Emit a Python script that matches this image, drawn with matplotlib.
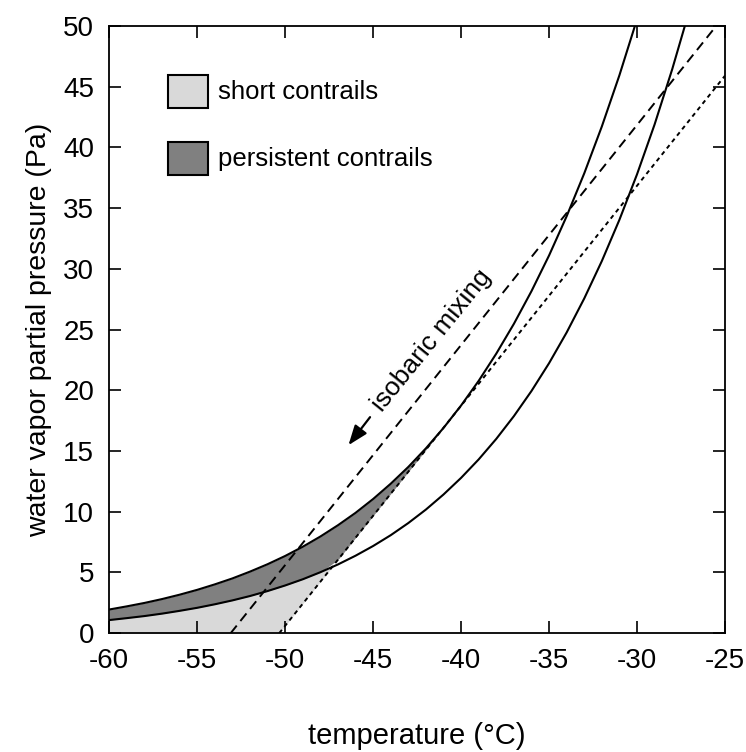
import matplotlib
matplotlib.use('Agg')
import matplotlib.pyplot as plt
from matplotlib.patches import Rectangle
import numpy as np

plt.rcParams['font.family'] = ['Liberation Sans', 'DejaVu Sans']
plt.rcParams['axes.unicode_minus'] = False

# saturation vapour pressure (Pa), 1 degC steps
temps = [-60, -59, -58, -57, -56, -55, -54, -53, -52, -51,
         -50, -49, -48, -47, -46, -45, -44, -43, -42, -41,
         -40, -39, -38, -37, -36, -35, -34, -33, -32, -31,
         -30, -29, -28, -27, -26]
e_water = [1.95, 2.21, 2.49, 2.81, 3.17, 3.57, 4.02, 4.51, 5.07, 5.68,
           6.36, 7.12, 7.96, 8.89, 9.91, 11.05, 12.31, 13.69, 15.22, 16.90,
           18.75, 20.78, 23.02, 25.47, 28.16, 31.10, 34.33, 37.86, 41.72, 45.94,
           50.55, 55.57, 61.04, 67.00, 73.47]
e_ice = [1.08, 1.24, 1.41, 1.61, 1.84, 2.09, 2.38, 2.70, 3.06, 3.47,
         3.93, 4.44, 5.02, 5.66, 6.38, 7.18, 8.07, 9.07, 10.18, 11.42,
         12.79, 14.31, 16.00, 17.87, 19.94, 22.23, 24.76, 27.56, 30.64, 34.04,
         37.78, 41.89, 46.43, 51.39, 56.84]

# isobaric mixing line (dashed) and threshold mixing line (dotted)
mix_t = [-53.1, -25.0]
mix_e = [0.0, 50.9]
crit_t = [-50.34, -25.0]
crit_e = [0.0, 45.9]

light = '#d9d9d9'
dark = '#808080'

fig = plt.figure(figsize=(7.46, 7.52), dpi=100)
ax = fig.add_axes([0.1465, 0.158, 0.8253, 0.8075])

# fill regions built from the curves above (left of the threshold line)
x = np.union1d(temps, crit_t[:1])
ice = np.interp(x, temps, e_ice)
water = np.interp(x, temps, e_water)
crit_raw = np.interp(x, crit_t, crit_e, left=-1)
crit = np.clip(crit_raw, 0, None)

short = (ice >= crit) & (x <= -45)
ax.fill_between(x, crit, ice, where=short, interpolate=True,
                color=light, lw=0, zorder=1)
lower = np.maximum(ice, crit_raw)
persist = (water >= lower) & (x <= -41)
ax.fill_between(x, lower, water, where=persist, interpolate=True,
                color=dark, lw=0, zorder=1)

ax.plot(temps, e_water, color='black', lw=1.5, zorder=3)
ax.plot(temps, e_ice, color='black', lw=1.5, zorder=3)
ax.plot(mix_t, mix_e, color='black', lw=1.4, dashes=(5, 3), zorder=4)
ax.plot(crit_t, crit_e, color='black', lw=1.4, dashes=(2.2, 2.0), zorder=4)

# annotation
ax.text(-41.67, 24.1, 'isobaric mixing', rotation=51, fontsize=19,
        ha='center', va='center', rotation_mode='anchor')
ax.annotate('', xy=(-46.5, 15.3), xytext=(-45.08, 17.97),
            arrowprops=dict(arrowstyle='-|>,head_length=1.2,head_width=0.45',
                            color='black', lw=1.6))

# legend boxes
for yb, col, lab in [(0.865, light, 'short contrails'),
                     (0.7545, dark, 'persistent contrails')]:
    ax.add_patch(Rectangle((0.0958, yb), 0.065, 0.054, transform=ax.transAxes,
                           facecolor=col, edgecolor='black', lw=1.5,
                           zorder=5))
    ax.text(0.177, yb + 0.027, lab, transform=ax.transAxes, fontsize=18.5,
            va='center', ha='left')

ax.set_xlim(-60, -25)
ax.set_ylim(0, 50)
ax.set_xticks(np.arange(-60, -24, 5))
ax.set_yticks(np.arange(0, 51, 5))
ax.tick_params(direction='in', length=8.5, width=1.2, top=True, right=True,
               labelsize=20)
ax.tick_params(axis='x', pad=11)
ax.tick_params(axis='y', pad=11)
for s in ax.spines.values():
    s.set_linewidth(1.3)

ax.set_xlabel('temperature (°C)', fontsize=21, labelpad=34)
ax.set_ylabel('water vapor partial pressure (Pa)', fontsize=20.5, labelpad=8)

fig.savefig('out.png', dpi=100)
